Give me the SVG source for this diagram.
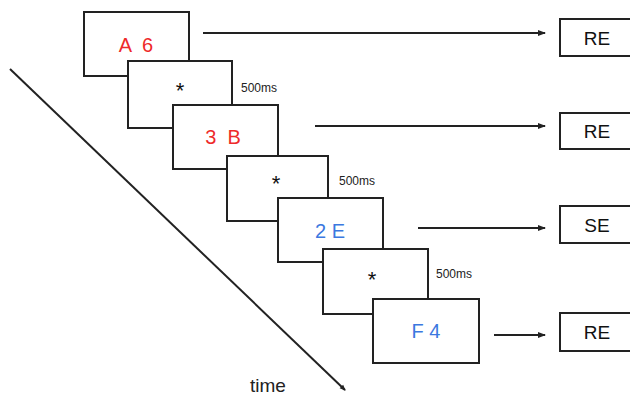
<svg xmlns="http://www.w3.org/2000/svg" width="630" height="402" viewBox="0 0 630 402">
<style>
.box{fill:#fff;stroke:#222;stroke-width:2}
.t{font-family:"Liberation Sans",Arial,sans-serif;text-anchor:middle;dominant-baseline:central;white-space:pre}
.red{fill:#ee2a2a;font-size:20px}
.blue{fill:#3b78e0;font-size:20px}
.star{fill:#111;font-size:22px}
.ms{fill:#222;font-size:12px;font-family:"Liberation Sans Narrow","Liberation Sans",Arial,sans-serif;dominant-baseline:central}
.resp{fill:#111;font-size:19px}
.ln{stroke:#222;stroke-width:2;fill:none}
</style>
<defs>
<marker id="ah" markerWidth="8" markerHeight="8" refX="7" refY="4" orient="auto" markerUnits="userSpaceOnUse">
<path d="M0,1 L8,4 L0,7 Z" fill="#222"/>
</marker>
<marker id="ahs" markerWidth="6" markerHeight="6" refX="5" refY="3" orient="auto" markerUnits="userSpaceOnUse">
<path d="M0,0.5 L6,3 L0,5.5 Z" fill="#222"/>
</marker>
</defs>
<rect width="630" height="402" fill="#fff"/>
<g id="connectors">
<line class="ln" x1="203" y1="33" x2="545" y2="33" marker-end="url(#ah)"/>
<line class="ln" x1="315" y1="126" x2="545" y2="126" marker-end="url(#ah)"/>
<line class="ln" x1="418" y1="228" x2="545" y2="228" marker-end="url(#ah)"/>
<line class="ln" x1="494" y1="335" x2="545" y2="335" marker-end="url(#ah)"/>
<line class="ln" x1="10" y1="69" x2="345" y2="390" marker-end="url(#ahs)" stroke-width="1.5"/>
</g>
<g id="stim1"><rect class="box" x="84" y="12" width="105" height="64"/><text class="t red" x="136" y="45" xml:space="preserve">A  6</text></g>
<g id="fix1"><rect class="box" x="128" y="61" width="104" height="67"/><text class="t star" x="180" y="90">*</text><text class="ms" x="241" y="88">500ms</text></g>
<g id="stim2"><rect class="box" x="173" y="105" width="105" height="64"/><text class="t red" x="223" y="137" xml:space="preserve">3  B</text></g>
<g id="fix2"><rect class="box" x="227" y="156" width="101" height="65"/><text class="t star" x="276" y="183">*</text><text class="ms" x="339" y="181">500ms</text></g>
<g id="stim3"><rect class="box" x="278" y="198" width="105" height="64"/><text class="t blue" x="330" y="231">2 E</text></g>
<g id="fix3"><rect class="box" x="323" y="249" width="105" height="65"/><text class="t star" x="372" y="279">*</text><text class="ms" x="436" y="274">500ms</text></g>
<g id="stim4"><rect class="box" x="373" y="299" width="106" height="64"/><text class="t blue" x="426" y="331">F 4</text></g>
<g id="resp1"><rect class="box" x="560" y="19" width="80" height="37"/><text class="t resp" x="597" y="38">RE</text></g>
<g id="resp2"><rect class="box" x="560" y="113" width="80" height="36"/><text class="t resp" x="597" y="131">RE</text></g>
<g id="resp3"><rect class="box" x="560" y="206" width="80" height="37"/><text class="t resp" x="597" y="225">SE</text></g>
<g id="resp4"><rect class="box" x="560" y="313" width="80" height="38"/><text class="t resp" x="597" y="332">RE</text></g>
<text x="250" y="392" font-family="Liberation Sans,Arial,sans-serif" font-size="19" fill="#222">time</text>
</svg>
